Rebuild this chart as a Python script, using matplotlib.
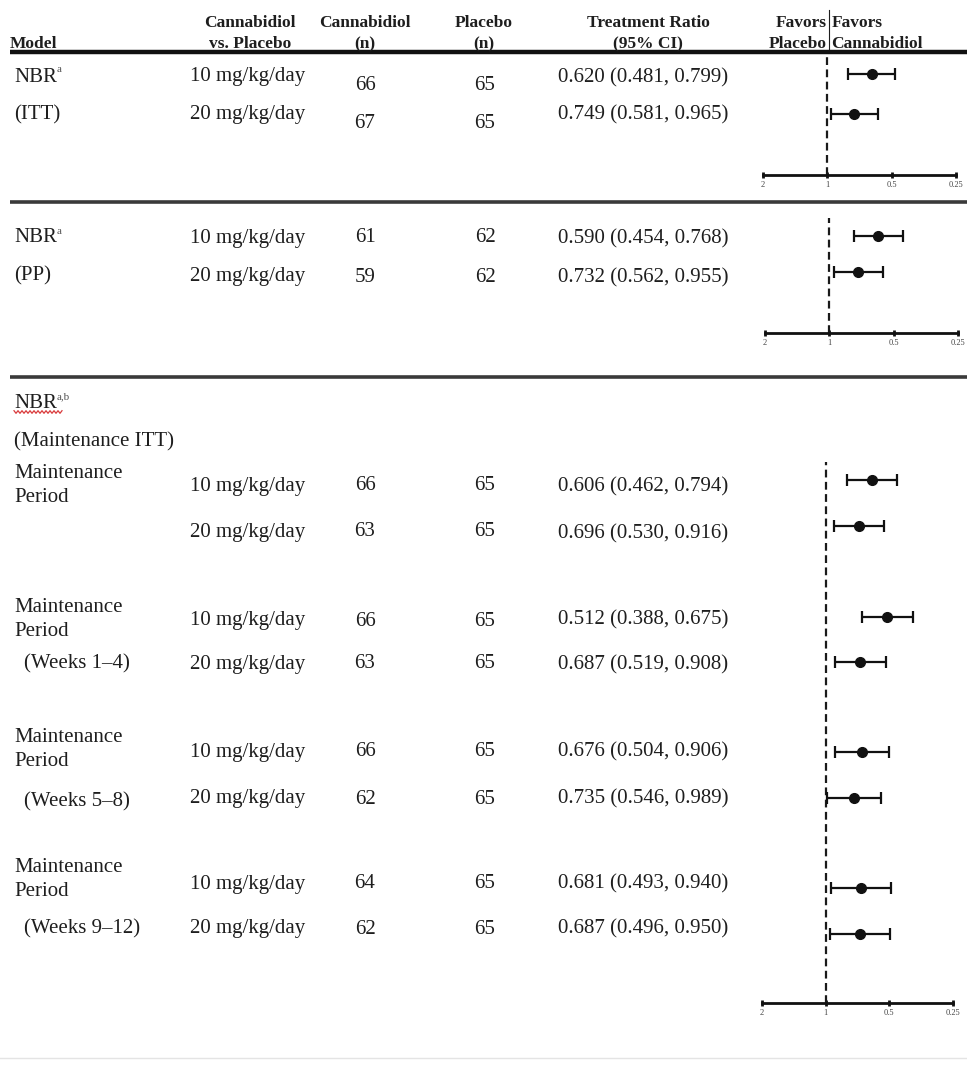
import numpy as np
import matplotlib
matplotlib.use("Agg")
import matplotlib.pyplot as plt
from matplotlib.ticker import FixedLocator, FixedFormatter, NullLocator

# ---- table data -------------------------------------------------------------
doses = ["10 mg/kg/day", "20 mg/kg/day"] * 6
n_cbd = [66, 67, 61, 59, 66, 63, 66, 63, 66, 62, 64, 62]
n_pbo = [65, 65, 62, 62, 65, 65, 65, 65, 65, 65, 65, 65]
ratio = [0.620, 0.749, 0.590, 0.732, 0.606, 0.696, 0.512, 0.687, 0.676, 0.735, 0.681, 0.687]
ci_lo = [0.481, 0.581, 0.454, 0.562, 0.462, 0.530, 0.388, 0.519, 0.504, 0.546, 0.493, 0.496]
ci_hi = [0.799, 0.965, 0.768, 0.955, 0.794, 0.916, 0.675, 0.908, 0.906, 0.989, 0.940, 0.950]
panel_of_row = [0, 0, 1, 1, 2, 2, 2, 2, 2, 2, 2, 2]

tick_values = [2, 1, 0.5, 0.25]
tick_labels = ["2", "1", "0.5", "0.25"]

headers = [("Model", None), ("Cannabidiol", "vs. Placebo"), ("Cannabidiol", "(n)"),
           ("Placebo", "(n)"), ("Treatment Ratio", "(95% CI)")]

# model column entries: (text, superscript)
model_labels = [("NBR", "a"), ("(ITT)", None), ("NBR", "a"), ("(PP)", None),
                ("NBR", "a,b"), ("(Maintenance ITT)", None),
                ("Maintenance", None), ("Period", None),
                ("Maintenance", None), ("Period", None), ("(Weeks 1\u20134)", None),
                ("Maintenance", None), ("Period", None), ("(Weeks 5\u20138)", None),
                ("Maintenance", None), ("Period", None), ("(Weeks 9\u201312)", None)]

# ---- layout (pixel coordinates, y measured from the top) -------------------
W, H = 967, 1065
DY = 2  # shift of body text so glyphs sit centred on their row
model_pos = [(14, 75), (14, 113), (14, 236), (14, 274), (14, 402), (14, 440),
             (14, 472), (14, 496), (14, 605), (14, 629), (24, 662),
             (14, 735), (14, 760), (24, 800), (14, 866), (14, 890), (24, 927)]
dose_y = [75, 113, 236, 274, 484, 530, 618, 662, 750, 797, 882, 927]
n_y = [83, 121, 236, 275, 484, 530, 620, 662, 750, 797, 882, 927]
ratio_y = [76, 113, 237, 276, 485, 532, 618, 663, 750, 797, 882, 927]
mark_y = [74, 114, 236, 272, 480, 526, 617, 662, 752, 798, 888, 934]
# forest panels: x of value 2, x of value 0.25, top of reference line, axis line y
panels = [(763, 956, 56, 175), (765, 958, 218, 333), (762, 953, 462, 1003)]

SERIF = "Liberation Serif"
TXT = "#1e1e1e"
FS = 15
HFS = 12.5

fig = plt.figure(figsize=(W / 100, H / 100), dpi=100)
bg = fig.add_axes([0, 0, 1, 1])
bg.set_xlim(0, W)
bg.set_ylim(H, 0)
bg.axis("off")

# header
hdr_x = [None, 250, 365, 484, 648]
bg.text(10, 44, "Model", family=SERIF, fontweight="bold", fontsize=HFS,
        ha="left", va="center", color=TXT)
for (l1, l2), x in zip(headers[1:], hdr_x[1:]):
    bg.text(x, 23, l1, family=SERIF, fontweight="bold", fontsize=HFS,
            ha="center", va="center", color=TXT)
    bg.text(x, 44, l2, family=SERIF, fontweight="bold", fontsize=HFS,
            ha="center", va="center", color=TXT)
bg.text(827, 23, "Favors", family=SERIF, fontweight="bold", fontsize=HFS,
        ha="right", va="center", color=TXT)
bg.text(832, 23, "Favors", family=SERIF, fontweight="bold", fontsize=HFS,
        ha="left", va="center", color=TXT)
bg.text(827, 44, "Placebo", family=SERIF, fontweight="bold", fontsize=HFS,
        ha="right", va="center", color=TXT)
bg.text(831, 44, "Cannabidiol", family=SERIF, fontweight="bold", fontsize=HFS,
        ha="left", va="center", color=TXT)
bg.plot([829, 829], [10, 52], color=TXT, lw=0.8)

# horizontal rules
bg.plot([10, W], [52, 52], color="#111111", lw=3.2, solid_capstyle="butt")
bg.plot([10, W], [202, 202], color="#3a3a3a", lw=2.6, solid_capstyle="butt")
bg.plot([10, W], [377, 377], color="#3a3a3a", lw=2.6, solid_capstyle="butt")
bg.plot([0, W], [1058, 1058], color="#e4e4e4", lw=1.0)

# model column
for (txt, sup), (x, y) in zip(model_labels, model_pos):
    bg.text(x, y + DY, txt, family=SERIF, fontsize=FS, ha="left", va="center", color=TXT)
    if sup:
        bg.text(x + 43, y - 5, sup, family=SERIF, fontsize=8, ha="left",
                va="center", color="#555555")

# wavy proofing underline under the third NBR label
wx = np.linspace(14, 62, 25)
wy = 412 + 1.3 * np.where(np.arange(wx.size) % 2 == 0, -1, 1)
bg.plot(wx, wy, color="#d9393b", lw=0.9)

# data columns
for i in range(len(ratio)):
    bg.text(248, dose_y[i] + DY, doses[i], family=SERIF, fontsize=FS,
            ha="center", va="center", color=TXT)
    bg.text(365, n_y[i] + DY, str(n_cbd[i]), family=SERIF, fontsize=FS,
            ha="center", va="center", color=TXT)
    bg.text(485, n_y[i] + DY, str(n_pbo[i]), family=SERIF, fontsize=FS,
            ha="center", va="center", color=TXT)
    bg.text(558, ratio_y[i] + DY,
            f"{ratio[i]:.3f} ({ci_lo[i]:.3f}, {ci_hi[i]:.3f})",
            family=SERIF, fontsize=FS, ha="left", va="center", color=TXT)

# forest panels
for p, (x2, x025, top, axis_y) in enumerate(panels):
    ax = fig.add_axes([x2 / W, 1 - axis_y / H, (x025 - x2) / W, (axis_y - top) / H])
    ax.set_xscale("log")
    ax.set_xlim(2, 0.25)
    ax.set_ylim(axis_y, top)
    ax.patch.set_alpha(0)
    for s in ("top", "left", "right"):
        ax.spines[s].set_visible(False)
    ax.spines["bottom"].set_linewidth(2.0)
    ax.spines["bottom"].set_color("#111111")
    ax.xaxis.set_major_locator(FixedLocator(tick_values))
    ax.xaxis.set_major_formatter(FixedFormatter(tick_labels))
    ax.xaxis.set_minor_locator(NullLocator())
    ax.yaxis.set_major_locator(NullLocator())
    ax.tick_params(axis="x", direction="inout", length=5, width=2.0,
                   colors="#111111", labelsize=6, labelcolor="#444444", pad=1.5)
    for lab in ax.get_xticklabels():
        lab.set_family(SERIF)
    ax.axvline(1, color="#1a1a1a", lw=1.6, ls=(0, (3.5, 2.0)))
    rows = [i for i, q in enumerate(panel_of_row) if q == p]
    r = np.array([ratio[i] for i in rows])
    lo = np.array([ci_lo[i] for i in rows])
    hi = np.array([ci_hi[i] for i in rows])
    yy = [mark_y[i] for i in rows]
    ax.errorbar(r, yy, xerr=[r - lo, hi - r], fmt="o", color="#111111",
                ms=7, elinewidth=1.6, capsize=4, capthick=1.6, clip_on=False)

fig.savefig("out.png", dpi=100)
